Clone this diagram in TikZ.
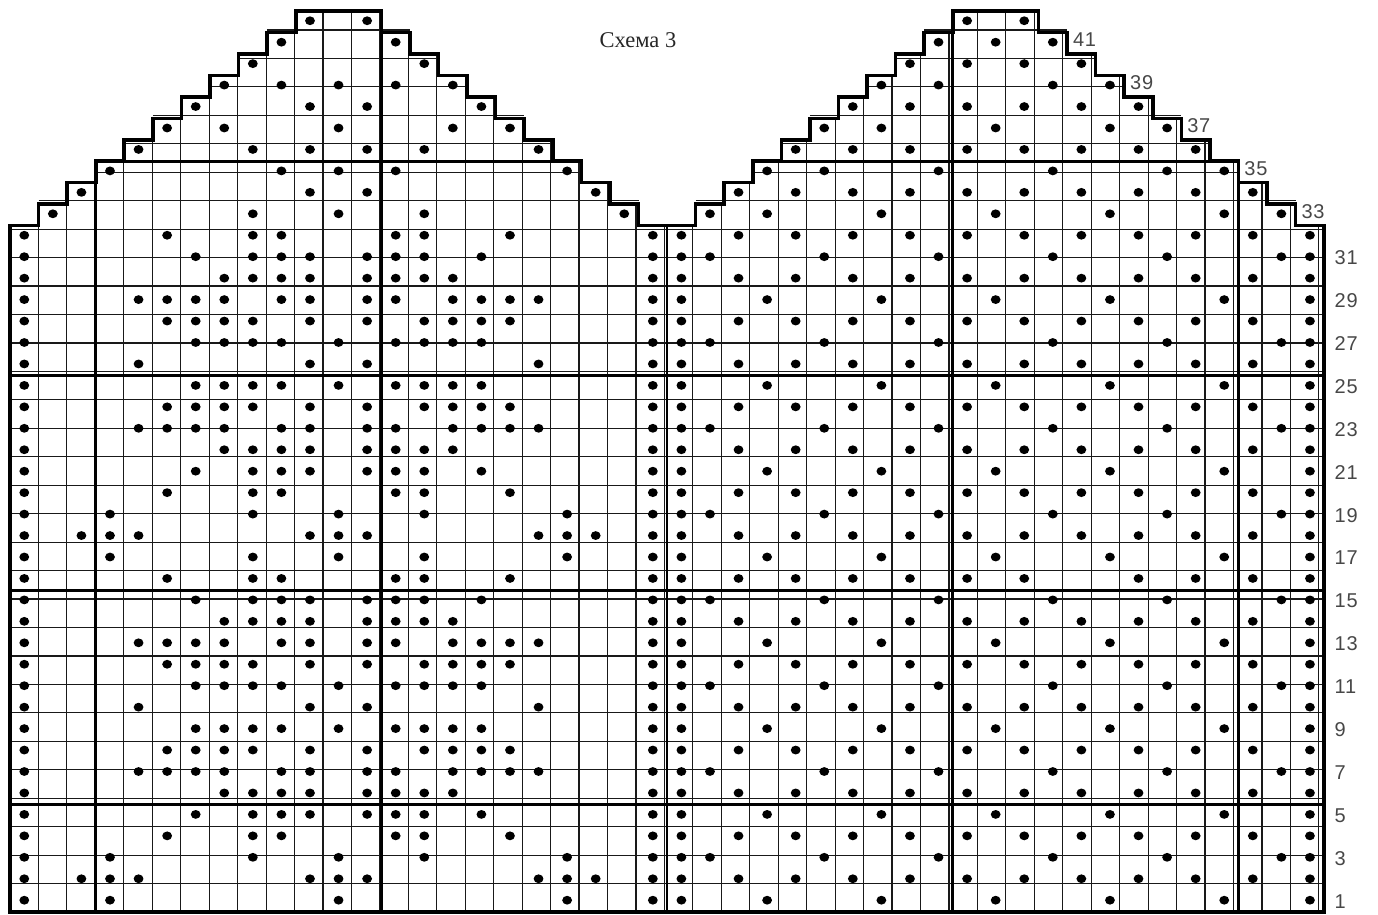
\documentclass[tikz,border=0pt]{standalone}
\usepackage{fontspec}
\setmainfont{Liberation Serif}
\newfontfamily\labelfont[LetterSpace=4]{Liberation Sans}
\def\KnOne{1,4,12,20,23}
\def\KnR{1,3,4,5,11,12,13,19,20,21,23}
\def\KnQ{1,4,9,12,15,20,23}
\def\KnPa{1,6,9,10,14,15,18,23}
\def\KnPb{1,7,9,10,11,13,14,15,17,23}
\def\KnPc{1,8,9,10,11,13,14,15,16,23}
\def\KnPd{1,5,6,7,8,10,11,13,14,16,17,18,19,23}
\def\KnPe{1,6,7,8,9,11,13,15,16,17,18,23}
\def\KnPf{1,7,8,9,10,12,14,15,16,17,23}
\def\KnPg{1,5,11,13,19,23}
\def\KnA{24,27,31,35,39,43,46}
\def\KnB{24,26,28,30,32,34,36,38,40,42,44,46}
\def\KnBx{24,26,28,30,32,34,36,40,42,44,46}
\def\KnC{24,25,29,33,37,41,45,46}
\newcommand\knitdots[2]{\foreach \cc in #2 {\fill[stitch] (\cc-0.5,#1-0.45) ellipse [x radius=4.9pt, y radius=4.4pt];}}
\begin{document}
\begin{tikzpicture}[x=28.57pt,y=21.45pt,
  thinline/.style={line width=1.15pt, draw=black!90},
  thickline/.style={line width=2.7pt},
  outline/.style={line width=3.6pt, line join=miter},
  stitch/.style={fill=black},
  rowlabel/.style={font=\labelfont\fontsize{20}{21}\selectfont, text=black!72, inner sep=0pt, anchor=west},
  titlelabel/.style={font=\fontsize{22.5}{24}\selectfont, text=black!85, inner sep=0pt, anchor=base}]
\useasboundingbox (-10pt,-2pt) rectangle (1368pt,912pt);
% thin grid
\draw[thinline] (0,0) grid (46,32);
\foreach \r in {33,...,42} {
  \draw[thinline] (\r-32,\r-1) grid (55-\r,\r);
  \draw[thinline] (\r-9,\r-1) grid (78-\r,\r);
}
% stitches
\knitdots{1}{\KnOne}\knitdots{1}{\KnA}
\knitdots{2}{\KnR}\knitdots{2}{\KnB}
\knitdots{3}{\KnQ}\knitdots{3}{\KnC}
\knitdots{4}{\KnPa}\knitdots{4}{\KnB}
\knitdots{5}{\KnPb}\knitdots{5}{\KnA}
\knitdots{6}{\KnPc}\knitdots{6}{\KnB}
\knitdots{7}{\KnPd}\knitdots{7}{\KnC}
\knitdots{8}{\KnPe}\knitdots{8}{\KnB}
\knitdots{9}{\KnPf}\knitdots{9}{\KnA}
\knitdots{10}{\KnPg}\knitdots{10}{\KnB}
\knitdots{11}{\KnPf}\knitdots{11}{\KnC}
\knitdots{12}{\KnPe}\knitdots{12}{\KnB}
\knitdots{13}{\KnPd}\knitdots{13}{\KnA}
\knitdots{14}{\KnPc}\knitdots{14}{\KnB}
\knitdots{15}{\KnPb}\knitdots{15}{\KnC}
\knitdots{16}{\KnPa}\knitdots{16}{\KnBx}
\knitdots{17}{\KnQ}\knitdots{17}{\KnA}
\knitdots{18}{\KnR}\knitdots{18}{\KnB}
\knitdots{19}{\KnQ}\knitdots{19}{\KnC}
\knitdots{20}{\KnPa}\knitdots{20}{\KnB}
\knitdots{21}{\KnPb}\knitdots{21}{\KnA}
\knitdots{22}{\KnPc}\knitdots{22}{\KnB}
\knitdots{23}{\KnPd}\knitdots{23}{\KnC}
\knitdots{24}{\KnPe}\knitdots{24}{\KnB}
\knitdots{25}{\KnPf}\knitdots{25}{\KnA}
\knitdots{26}{\KnPg}\knitdots{26}{\KnB}
\knitdots{27}{\KnPf}\knitdots{27}{\KnC}
\knitdots{28}{\KnPe}\knitdots{28}{\KnB}
\knitdots{29}{\KnPd}\knitdots{29}{\KnA}
\knitdots{30}{\KnPc}\knitdots{30}{\KnB}
\knitdots{31}{\KnPb}\knitdots{31}{\KnC}
\knitdots{32}{\KnPa}\knitdots{32}{\KnB}
\knitdots{33}{{2,9,12,15,22,25,27,31,35,39,43,45}}
\knitdots{34}{{3,11,13,21,26,28,30,32,34,36,38,40,42,44}}
\knitdots{35}{{4,10,12,14,20,27,29,33,37,41,43}}
\knitdots{36}{{5,9,11,13,15,19,28,30,32,34,36,38,40,42}}
\knitdots{37}{{6,8,12,16,18,29,31,35,39,41}}
\knitdots{38}{{7,11,13,17,30,32,34,36,38,40}}
\knitdots{39}{{8,10,12,14,16,31,33,37,39}}
\knitdots{40}{{9,15,32,34,36,38}}
\knitdots{41}{{10,14,33,35,37}}
\knitdots{42}{{11,13,34,36}}
% thick dividing lines
\draw[thickline] (0,5) -- (46,5);
\draw[thickline] (0,15) -- (46,15);
\draw[thickline] (0,25) -- (46,25);
\draw[thickline] (3,35) -- (20,35);
\draw[thickline] (26,35) -- (43,35);
\draw[thickline] (3,0) -- (3,34);
\draw[thickline] (13,0) -- (13,41);
\draw[thickline] (23,0) -- (23,32);
\draw[thickline] (33,0) -- (33,41);
\draw[thickline] (43,0) -- (43,34);
% outline
\draw[outline] (0,0) -- (46,0) -- (46,32) -- (45,32) -- (45,33) -- (44,33) -- (44,34) -- (43,34) -- (43,35) -- (42,35) -- (42,36) -- (41,36) -- (41,37) -- (40,37) -- (40,38) -- (39,38) -- (39,39) -- (38,39) -- (38,40) -- (37,40) -- (37,41) -- (36,41) -- (36,42) -- (33,42) -- (33,41) -- (32,41) -- (32,40) -- (31,40) -- (31,39) -- (30,39) -- (30,38) -- (29,38) -- (29,37) -- (28,37) -- (28,36) -- (27,36) -- (27,35) -- (26,35) -- (26,34) -- (25,34) -- (25,33) -- (24,33) -- (24,32) -- (22,32) -- (22,33) -- (21,33) -- (21,34) -- (20,34) -- (20,35) -- (19,35) -- (19,36) -- (18,36) -- (18,37) -- (17,37) -- (17,38) -- (16,38) -- (16,39) -- (15,39) -- (15,40) -- (14,40) -- (14,41) -- (13,41) -- (13,42) -- (10,42) -- (10,41) -- (9,41) -- (9,40) -- (8,40) -- (8,39) -- (7,39) -- (7,38) -- (6,38) -- (6,37) -- (5,37) -- (5,36) -- (4,36) -- (4,35) -- (3,35) -- (3,34) -- (2,34) -- (2,33) -- (1,33) -- (1,32) -- (0,32) -- cycle;
% row numbers
\foreach \n in {1,3,...,31} {
  \node[rowlabel] (row\n) at (46.36,\n-0.5) {\n};
}
\foreach \n in {33,35,...,41} {
  \node[rowlabel] (row\n) at (78.2-\n,\n-0.35) {\n};
}
% title
\node[titlelabel] (title) at (628pt,864pt) {Схема 3};
\end{tikzpicture}
\end{document}
